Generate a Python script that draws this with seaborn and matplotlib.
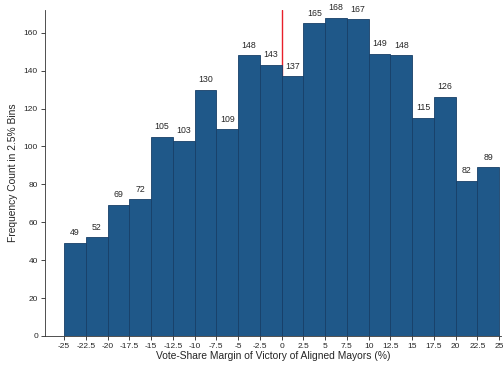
import numpy as np
import pandas as pd
import matplotlib
matplotlib.use("Agg")
import matplotlib.pyplot as plt
import seaborn as sns

# bin centers (2.5% bins from -25 to 25) and counts
bin_left = [-25, -22.5, -20, -17.5, -15, -12.5, -10, -7.5, -5, -2.5,
            0, 2.5, 5, 7.5, 10, 12.5, 15, 17.5, 20, 22.5]
counts = [49, 52, 69, 72, 105, 103, 130, 109, 148, 143,
          137, 165, 168, 167, 149, 148, 115, 126, 82, 89]
xtick_vals = [-25, -22.5, -20, -17.5, -15, -12.5, -10, -7.5, -5, -2.5,
              0, 2.5, 5, 7.5, 10, 12.5, 15, 17.5, 20, 22.5, 25]
ytick_vals = [0, 20, 40, 60, 80, 100, 120, 140, 160]

df = pd.DataFrame({"margin": np.array(bin_left) + 1.25, "n": counts})
edges = bin_left + [25.0]

sns.set_style("ticks")
plt.rcParams['font.family'] = ['Liberation Sans', 'DejaVu Sans']

fig = plt.figure(figsize=(5.04, 3.68), dpi=100)
ax = fig.add_axes([0.089, 0.087, 0.905, 0.886])

# red line at the cutoff, drawn behind the bars
ax.axvline(0, color="#e8202a", lw=1.0, zorder=0)

sns.histplot(data=df, x="margin", weights="n", bins=edges, ax=ax,
             color="#1f5889", alpha=1, edgecolor="#173f68", linewidth=0.6,
             zorder=2)

for p, c in zip(ax.patches, counts):
    ax.text(p.get_x() + p.get_width() / 2, c + 3, str(c),
            ha="center", va="bottom", fontsize=6.3)

ax.set_xlim(-27.2, 25.2)
ax.set_ylim(0, 172)
ax.set_xticks(xtick_vals)
ax.set_xticklabels([f"{v:g}" for v in xtick_vals], fontsize=6)
ax.set_yticks(ytick_vals)
ax.set_yticklabels([str(v) for v in ytick_vals], fontsize=6)
ax.tick_params(length=3, width=0.6, pad=2)
ax.set_xlabel("Vote-Share Margin of Victory of Aligned Mayors (%)", fontsize=7.4, labelpad=1)
ax.set_ylabel("Frequency Count in 2.5% Bins", fontsize=7.4, labelpad=4)
for s in ["left", "bottom"]:
    ax.spines[s].set_linewidth(0.6)
    ax.spines[s].set_color("#333333")
sns.despine(ax=ax)

fig.savefig("out.png", dpi=100)
